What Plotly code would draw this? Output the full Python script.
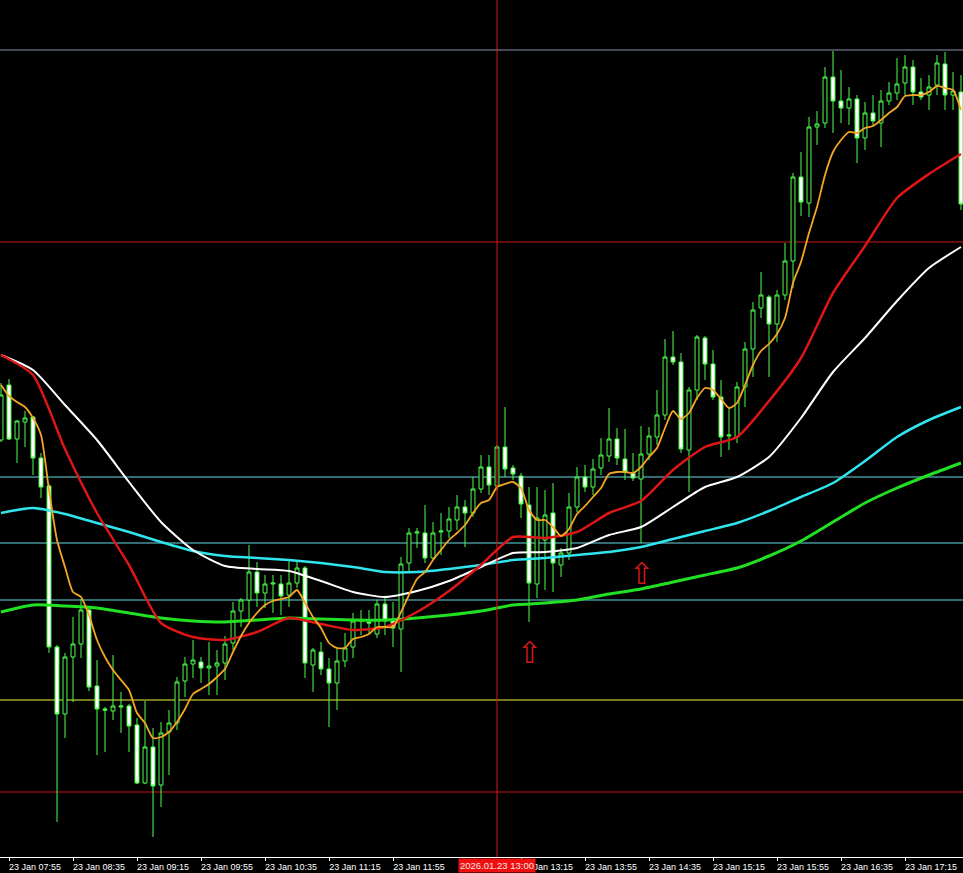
import pandas as pd
import plotly.graph_objects as go

# ---------------- data ----------------
start_time = "2026-01-23 07:50"
n_candles = 121

opens = [560,615,561,578,583,542,514,353,286,343,
         356,390,314,291,289,293,294,275,217,253,
         215,268,277,319,336,338,332,334,337,357,
         389,400,428,407,416,416,405,417,432,335,
         348,331,317,339,353,379,378,366,396,379,
         371,437,467,467,442,468,469,480,493,487,
         511,533,514,553,532,524,495,416,460,487,
         435,447,493,523,513,532,544,561,541,527,
         521,546,563,585,643,638,550,610,662,636,
         603,564,563,613,651,692,703,676,705,739,
         823,797,873,877,923,899,892,901,862,887,
         877,899,907,917,933,908,905,915,936,905,
         908]
highs = [617,621,580,589,584,547,516,355,347,383,
         401,392,340,293,345,308,296,282,299,272,
         278,290,323,343,360,343,358,350,364,398,
         402,455,438,425,425,425,440,440,434,352,
         358,342,353,367,387,390,390,400,402,398,
         443,472,472,495,478,487,493,505,500,523,
         545,545,555,593,535,527,513,513,510,517,
         452,507,533,535,541,562,592,572,571,547,
         574,573,610,661,669,647,613,665,664,650,
         620,592,618,658,698,728,705,710,757,827,
         848,883,889,933,949,930,913,905,898,905,
         910,918,942,945,940,922,925,945,948,928,
         925]
lows = [558,560,537,553,525,502,347,178,262,298,
        342,309,245,248,280,267,248,216,216,163,
        193,225,270,303,322,317,305,305,320,350,
        373,380,393,392,387,385,393,412,322,308,
        325,273,290,333,342,365,367,362,365,353,
        328,428,452,437,440,445,462,470,453,483,
        507,505,510,523,520,482,378,402,410,408,
        423,440,488,508,505,525,538,535,520,519,
        457,540,555,580,635,547,508,600,620,600,
        543,550,557,593,623,682,623,658,700,712,
        784,783,855,872,867,877,875,837,850,875,
        853,895,900,905,895,900,890,905,890,890,
        790]
closes = [605,561,579,582,542,513,353,286,343,356,
          390,313,291,290,294,294,274,217,253,214,
          267,277,318,336,340,332,334,337,356,389,
          400,428,407,416,417,404,417,432,337,350,
          331,317,339,352,379,380,377,396,379,372,
          436,467,468,442,467,469,481,493,487,511,
          533,515,553,531,526,496,417,482,485,437,
          447,493,523,513,531,545,561,542,528,522,
          546,564,585,643,638,551,610,663,636,603,
          563,565,613,651,690,705,676,705,739,823,
          798,873,876,923,899,892,901,862,887,879,
          899,907,916,933,908,903,913,937,905,909,
          796]

# fast MA (every candle)
ma_fast = [615,604,598,593,582,565,510,460,433,408,
           403,385,360,343,330,320,310,287,277,262,
           263,268,278,291,306,311,316,323,331,348,
           364,377,387,395,399,401,403,410,397,383,
           372,357,352,352,361,363,366,373,373,373,
           388,405,421,428,440,450,460,467,475,487,
           497,500,513,516,518,512,490,480,480,473,
           464,471,486,494,503,512,526,528,528,527,
           533,543,552,572,589,581,587,602,612,610,
           601,592,597,615,635,649,656,666,682,717,
           738,767,793,825,848,860,868,867,872,874,
           880,887,893,904,905,905,908,914,912,910,
           890]
# slower MAs, read every 4th candle
ma_red = [645,625,551,487,435,377,363,360,368,382,376,370,373,388,409,435,
          463,462,468,487,499,530,553,563,599,642,707,754,802,826,846]
ma_white = [645,630,595,560,518,478,450,434,431,429,419,408,403,409,419,433,
            447,448,452,465,473,493,513,523,543,582,628,662,699,732,753]
ma_cyan = [487,492,486,477,468,458,449,444,442,440,437,433,428,428,431,435,
           440,442,445,448,453,461,469,477,489,503,517,539,563,580,593]
ma_green = [388,395,394,392,387,382,379,378,380,382,381,380,380,382,385,389,
            395,397,400,406,411,418,425,432,444,459,478,497,512,525,537]

levels = [950, 758, 523, 457, 400, 300, 208]
level_colors = ["#8a97b0", "#c41818", "#66d8e2", "#66d8e2", "#66d8e2", "#f2f23a", "#c41818"]

# (the 12:35 label sits under the red cursor label in the original and is not visible)
tick_labels = ["23 Jan 07:55", "23 Jan 08:35", "23 Jan 09:15", "23 Jan 09:55",
               "23 Jan 10:35", "23 Jan 11:15", "23 Jan 11:55",
               "23 Jan 13:15", "23 Jan 13:55", "23 Jan 14:35", "23 Jan 15:15",
               "23 Jan 15:55", "23 Jan 16:35", "23 Jan 17:15"]
cursor_time = "2026-01-23 13:00"
cursor_label = "2026.01.23 13:00"
arrow_times = ["2026-01-23 13:20", "2026-01-23 14:30"]
arrow_values = [348, 427]

# ---------------- figure ----------------
times = pd.date_range(start_time, periods=n_candles, freq="5min")
slow_times = times[::4]
tickvals = pd.to_datetime(["2026-01-23 " + t[-5:] for t in tick_labels])

W, H = 963, 873
px_per_bar = 8.0
bar = pd.Timedelta(minutes=5)
x0 = times[0] - bar * (1.0 / px_per_bar)
x1 = x0 + bar * (W / px_per_bar)

fig = go.Figure()
fig.add_trace(go.Candlestick(
    x=times, open=opens, high=highs, low=lows, close=closes,
    increasing=dict(line=dict(color="#4cff4c", width=1), fillcolor="#000000"),
    decreasing=dict(line=dict(color="#4cff4c", width=1), fillcolor="#ffffff"),
    whiskerwidth=0, hoverinfo="skip", showlegend=False))

for vals, xs, col, w in [(ma_green, slow_times, "#22e022", 3),
                         (ma_cyan, slow_times, "#2fe6ef", 2.5),
                         (ma_white, slow_times, "#ffffff", 2),
                         (ma_red, slow_times, "#dd1616", 2.5),
                         (ma_fast, times, "#f5a623", 1.8)]:
    fig.add_trace(go.Scatter(x=xs, y=vals, mode="lines",
                             line=dict(color=col, width=w, shape="spline", smoothing=0.6),
                             hoverinfo="skip", showlegend=False))

shapes = []
for lv, c in zip(levels, level_colors):
    shapes.append(dict(type="line", xref="paper", x0=0, x1=1, yref="y", y0=lv, y1=lv,
                       line=dict(color=c, width=1), layer="below"))
shapes.append(dict(type="line", xref="x", x0=cursor_time, x1=cursor_time,
                   yref="paper", y0=0, y1=1, line=dict(color="#e01414", width=1)))

annotations = [dict(x=cursor_time, xref="x", y=0, yref="paper", yanchor="top",
                    yshift=-1, text=cursor_label, showarrow=False,
                    bgcolor="#ee1010", borderpad=1,
                    font=dict(family="Liberation Sans", size=9.5, color="#ffe4e4"))]
for t, v in zip(arrow_times, arrow_values):
    annotations.append(dict(x=t, y=v, xref="x", yref="y", text="⇧", showarrow=False,
                            font=dict(family="DejaVu Sans", size=30, color="#d01818")))

fig.update_layout(
    template="none",
    width=W, height=H,
    margin=dict(l=0, r=0, t=0, b=16, pad=0),
    paper_bgcolor="#000000", plot_bgcolor="#000000",
    boxgap=0.3,
    shapes=shapes, annotations=annotations,
    xaxis=dict(type="date", range=[x0, x1], rangeslider=dict(visible=False),
               automargin=False,
               showgrid=False, zeroline=False, showline=True, linecolor="#ffffff",
               linewidth=1, ticks="outside", ticklen=3, tickcolor="#ffffff",
               tickvals=tickvals, ticktext=tick_labels, ticklabelshift=26,
               ticklabelstandoff=-2,
               tickfont=dict(family="Liberation Sans", size=9, color="#ffffff")),
    yaxis=dict(range=[143, 1000], showgrid=False, zeroline=False, showticklabels=False,
               showline=False, ticks="", automargin=False),
)

fig.write_html("out.html", config={"displayModeBar": False},
               post_script="document.body.style.margin='0';document.body.style.background='#000';")
